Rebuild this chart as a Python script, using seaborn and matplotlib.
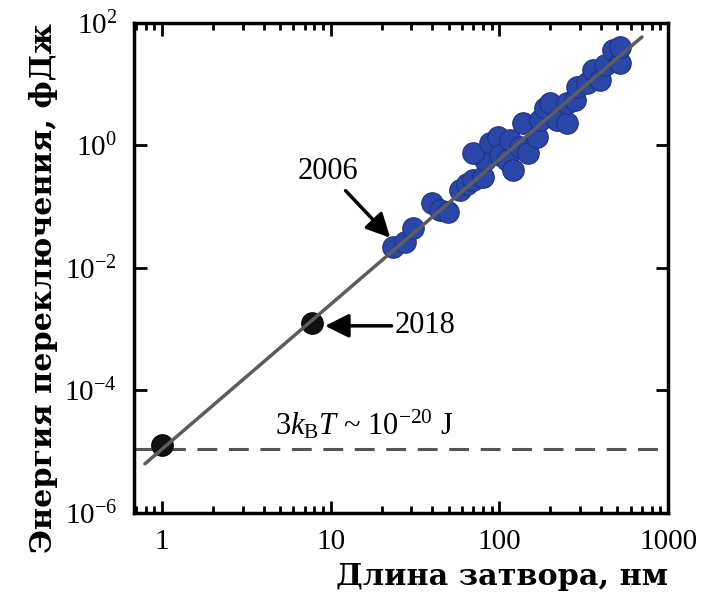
import numpy as np
import pandas as pd
import matplotlib
matplotlib.use('Agg')
import matplotlib.pyplot as plt
import seaborn as sns
from matplotlib.ticker import LogLocator, LogFormatterMathtext, FixedLocator, NullFormatter, NullLocator

# Gate length (nm) and switching energy (fJ)
gate_len = [23.4, 27.6, 30.8, 39.8, 44.5, 49.6, 58.4, 64, 69.8, 80, 82, 69.8,
            88, 98, 101, 111, 116, 120, 132, 138, 148, 167, 174, 186, 200,
            219, 252, 252, 281, 288, 330, 359, 395, 423, 471, 519, 519]
energy = [0.022, 0.0266, 0.045, 0.115, 0.089, 0.082, 0.187, 0.23, 0.273, 0.306,
          0.58, 0.755, 1.1, 1.38, 0.70, 0.58, 1.23, 0.4, 0.95, 2.3, 0.755, 1.38,
          2.6, 4.1, 4.9, 2.6, 2.3, 4.9, 5.5, 9.0, 10.5, 17, 11.7, 20.6, 36, 22, 40]

# projected points (2018 and 1 nm)
proj_len = [1.0, 7.7]
proj_energy = [1.3e-5, 1.26e-3]

# trend line end points and thermal limit
fit_len = [0.79, 700]
fit_energy = [6.3e-6, 59]
thermal_limit = 1.1e-5

x_ticks = [1, 10, 100, 1000]
x_ticklabels = ['1', '10', '100', '1000']

sns.set_theme(style='ticks')
plt.rcParams['font.family'] = ['Liberation Serif', 'DejaVu Serif']
plt.rcParams['mathtext.fontset'] = 'custom'
plt.rcParams['mathtext.rm'] = 'Liberation Serif'
plt.rcParams['mathtext.it'] = 'Liberation Serif:italic'
plt.rcParams['mathtext.bf'] = 'Liberation Serif:bold'
plt.rcParams['text.color'] = 'black'
plt.rcParams['axes.labelcolor'] = 'black'

fig = plt.figure(figsize=(7.01, 6.04), dpi=100)
ax = fig.add_axes([0.191, 0.151, 0.762, 0.811])

pts = pd.DataFrame({'L': gate_len, 'E': energy})
sns.scatterplot(data=pts, x='L', y='E', ax=ax, s=240, color='#2a46a8',
                edgecolor='#1c3384', linewidth=0.8, zorder=2)

proj = pd.DataFrame({'L': proj_len, 'E': proj_energy})
sns.scatterplot(data=proj, x='L', y='E', ax=ax, s=240, color='#111111',
                edgecolor='#000000', linewidth=0.8, zorder=2)

fit = pd.DataFrame({'L': fit_len, 'E': fit_energy})
sns.lineplot(data=fit, x='L', y='E', ax=ax, color='#5c5c5c', lw=2.5, zorder=3)

ax.axhline(thermal_limit, color='#555555', lw=2.2, dashes=(6.5, 3.8), zorder=1)

ax.set_xscale('log')
ax.set_yscale('log')
ax.set_xlim(0.68, 1000)
ax.set_ylim(1e-6, 1e2)

ax.xaxis.set_major_locator(FixedLocator(x_ticks))
ax.set_xticklabels(x_ticklabels)
ax.xaxis.set_minor_locator(LogLocator(base=10, subs=np.arange(2, 10)))
ax.xaxis.set_minor_formatter(NullFormatter())
ax.yaxis.set_major_locator(FixedLocator([1e-6, 1e-4, 1e-2, 1e0, 1e2]))
ax.yaxis.set_major_formatter(LogFormatterMathtext())
ax.yaxis.set_minor_locator(NullLocator())

ax.tick_params(which='both', direction='in', top=True, right=True, width=2,
               colors='black', labelsize=21)
ax.tick_params(which='major', length=9, pad=12)
ax.tick_params(which='minor', length=5)
for s in ax.spines.values():
    s.set_linewidth(2.5)
    s.set_color('black')

ax.set_xlabel('Длина затвора, нм', fontsize=21.8, fontweight='bold', family='DejaVu Serif',
              loc='right', labelpad=5)
ax.set_ylabel('Энергия переключения, фДж', fontsize=21.8, fontweight='bold', family='DejaVu Serif',
              loc='top', labelpad=5)

arrow = dict(arrowstyle='-|>', color='black', lw=2.5, mutation_scale=36, shrinkA=0, shrinkB=0)
ax.annotate('2006', xy=(22.5, 0.031), xytext=(9.6, 0.37), fontsize=22,
            ha='center', va='center', arrowprops=dict(arrow, shrinkA=1))
ax.annotate('2018', xy=(9.25, 1.13e-3), xytext=(24, 1.13e-3), fontsize=22,
            ha='left', va='center', arrowprops=arrow)
ax.text(15.7, 1.45e-5, r'$3k_{\rm B}T$ ~ 10$^{-20}$ J', fontsize=22,
        ha='center', va='bottom')

fig.savefig('out.png', dpi=100)
